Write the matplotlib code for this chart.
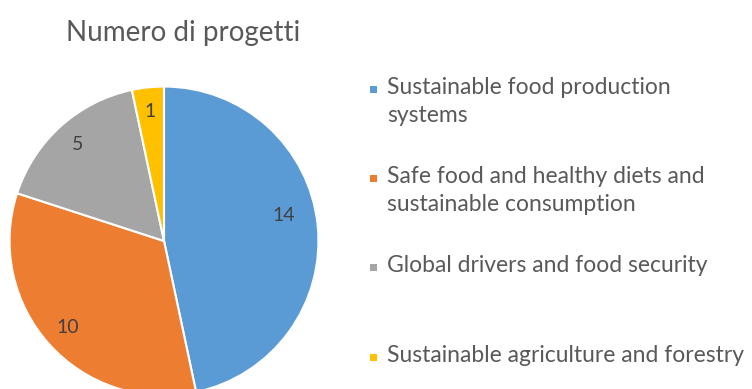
import matplotlib.pyplot as plt
from matplotlib.patches import Rectangle

# Projects per research area
categories = [
    "Sustainable food production\nsystems",
    "Safe food and healthy diets and\nsustainable consumption",
    "Global drivers and food security",
    "Sustainable agriculture and forestry",
]
counts = [14, 10, 5, 1]
colors = ["#5B9BD5", "#ED7D31", "#A5A5A5", "#FFC000"]

plt.rcParams["font.family"] = ["Lato", "DejaVu Sans"]

W, H = 752, 389
fig = plt.figure(figsize=(W / 100, H / 100), dpi=100)

# pie centre and radius in pixels
cx, cy, r = 164, 241, 156
ax = fig.add_axes([(cx - r) / W, (H - cy - r) / H, 2 * r / W, 2 * r / H])

wedges, texts, autotexts = ax.pie(
    counts, colors=colors, startangle=90, counterclock=False,
    autopct=lambda p: f"{round(p * sum(counts) / 100):d}", pctdistance=0.84,
    wedgeprops=dict(edgecolor="white", linewidth=1.5),
    textprops=dict(color="#404040", fontsize=14),
)
# the biggest slice's label sits a bit further in and higher up
x0, y0 = autotexts[0].get_position()
autotexts[0].set_position((x0 * 0.93, y0 + 0.08))

ax.set_xlim(-1.01, 1.01)
ax.set_ylim(-1.01, 1.01)
ax.set_aspect("equal")

fig.text(183 / W, 1 - 33 / H, "Numero di progetti", ha="center", va="center",
         fontsize=20, color="#595959")

# legend entries on the right
legend_y = [89, 178, 267, 357]
for label, col, y in zip(categories, colors, legend_y):
    fig.patches.append(Rectangle((370 / W, 1 - (y + 4) / H), 7 / W, 7 / H,
                                 transform=fig.transFigure, facecolor=col,
                                 edgecolor="none"))
    fig.text(387 / W, 1 - (y - 12) / H, label, ha="left", va="top",
             fontsize=16.5, color="#595959", linespacing=1.42)

fig.savefig("out.png", dpi=100)
